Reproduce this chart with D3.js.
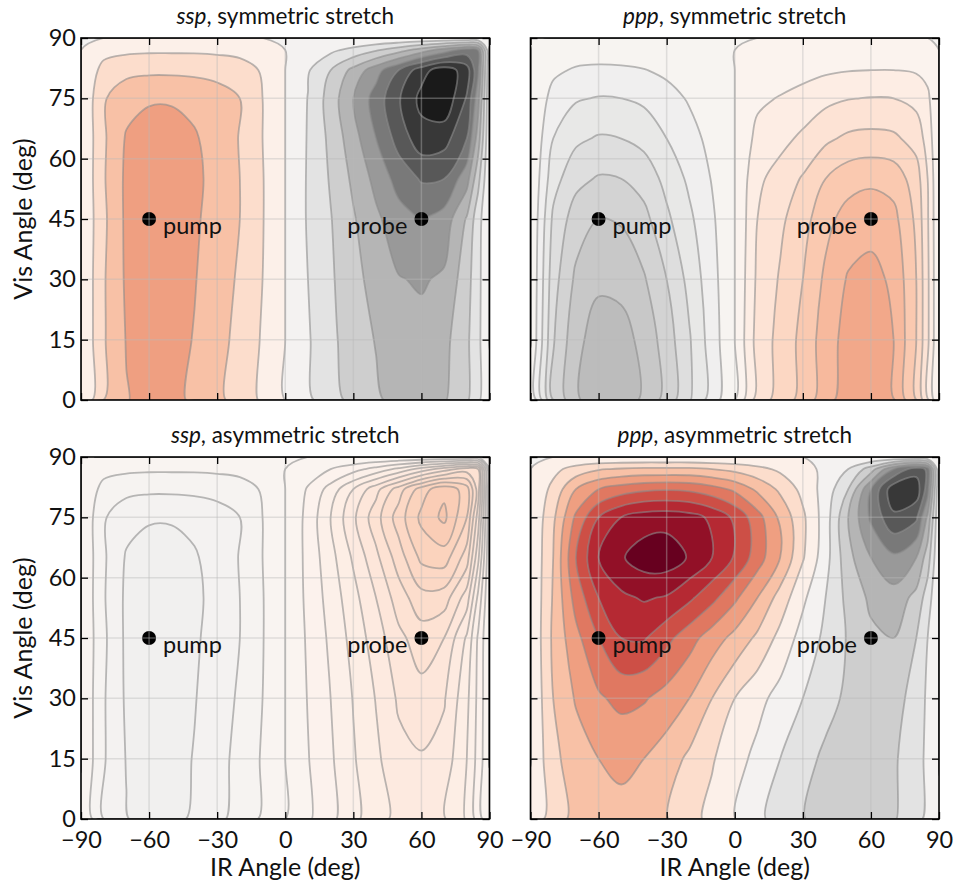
<!DOCTYPE html>
<html>
<head>
<meta charset="utf-8">
<script src="https://cdn.jsdelivr.net/npm/d3@7"></script>
<style>
  body { margin: 0; background: #fff; }
  text { font-family: Lato, "Open Sans", sans-serif; fill: #111; }
</style>
</head>
<body>
<div id="container"></div>
<script>
// grid axes (deg)
const irAngles = [-90, -80, -70, -60, -50, -40, -30, -20, -10, 0, 10, 20, 30, 40, 50, 60, 70, 80, 85, 90];
const visAngles = [0, 15, 30, 45, 55, 65, 75, 82, 87, 90];

// field values, one row per vis angle (bottom to top)
const sspSym = [
  [0, -.2, -.295, -.335, -.325, -.285, -.225, -.16, -.085, 0, .08, .16, .23, .285, .33, .35, .31, .215, .12, 0],
  [0, -.19, -.305, -.34, -.335, -.295, -.235, -.17, -.09, 0, .09, .175, .255, .305, .35, .37, .33, .22, .125, 0],
  [0, -.19, -.315, -.35, -.345, -.305, -.25, -.185, -.1, 0, .1, .185, .27, .335, .395, .41, .385, .24, .13, 0],
  [0, -.18, -.32, -.355, -.355, -.315, -.26, -.2, -.105, 0, .11, .195, .29, .38, .46, .505, .46, .29, .14, 0],
  [0, -.19, -.32, -.355, -.355, -.32, -.27, -.2, -.105, 0, .11, .21, .32, .43, .54, .61, .6, .44, .23, 0],
  [0, -.185, -.31, -.34, -.34, -.31, -.26, -.195, -.1, 0, .107, .225, .36, .5, .64, .76, .74, .6, .35, 0],
  [0, -.19, -.265, -.29, -.29, -.275, -.245, -.2, -.1, 0, .103, .245, .4, .545, .69, .83, .88, .69, .44, 0],
  [0, -.135, -.17, -.18, -.18, -.175, -.165, -.145, -.09, 0, .09, .2, .33, .46, .6, .76, .86, .75, .52, 0],
  [0, -.065, -.08, -.085, -.085, -.085, -.08, -.07, -.045, 0, .04, .08, .13, .19, .26, .35, .45, .55, .5, 0],
  [0, 0, 0, 0, 0, 0, 0, 0, 0, 0, 0, 0, 0, 0, 0, 0, 0, 0, 0, 0]
];
const pppSym = [
  [0, .2, .29, .335, .33, .29, .23, .155, .075, 0, -.125, -.17, -.22, -.28, -.33, -.345, -.305, -.2, -.11, 0],
  [0, .195, .285, .325, .32, .285, .225, .155, .075, 0, -.12, -.165, -.215, -.275, -.32, -.335, -.3, -.2, -.11, 0],
  [0, .18, .26, .29, .285, .255, .2, .135, .068, 0, -.11, -.155, -.2, -.26, -.305, -.317, -.29, -.2, -.11, 0],
  [0, .16, .225, .25, .245, .215, .16, .11, .058, 0, -.1, -.14, -.18, -.235, -.27, -.28, -.265, -.19, -.105, 0],
  [0, .13, .185, .205, .2, .18, .135, .09, .047, 0, -.09, -.12, -.155, -.2, -.23, -.24, -.23, -.175, -.1, 0],
  [0, .1, .14, .155, .15, .135, .1, .068, .035, 0, -.065, -.085, -.11, -.14, -.16, -.165, -.16, -.13, -.08, 0],
  [0, .068, .095, .103, .1, .09, .068, .045, .023, 0, -.04, -.053, -.068, -.087, -.098, -.102, -.1, -.085, -.06, 0],
  [0, .04, .056, .06, .058, .052, .04, .027, .013, 0, -.02, -.026, -.033, -.042, -.048, -.05, -.05, -.045, -.035, 0],
  [0, .017, .023, .025, .024, .022, .017, .011, .006, 0, -.007, -.01, -.013, -.016, -.019, -.02, -.02, -.018, -.014, 0],
  [0, 0, 0, 0, 0, 0, 0, 0, 0, 0, 0, 0, 0, 0, 0, 0, 0, 0, 0, 0]
];
const sspAsym = [
  [0, .04, .059, .067, .065, .057, .045, .032, .017, 0, -.017, -.035, -.055, -.072, -.086, -.092, -.082, -.058, -.032, 0],
  [0, .038, .061, .068, .067, .059, .047, .034, .018, 0, -.019, -.037, -.058, -.076, -.094, -.098, -.092, -.06, -.033, 0],
  [0, .038, .063, .07, .069, .061, .05, .037, .02, 0, -.021, -.04, -.061, -.081, -.103, -.113, -.102, -.065, -.035, 0],
  [0, .036, .064, .071, .071, .063, .052, .04, .021, 0, -.023, -.044, -.067, -.09, -.115, -.13, -.12, -.077, -.037, 0],
  [0, .038, .064, .071, .071, .064, .054, .04, .021, 0, -.025, -.048, -.073, -.1, -.13, -.153, -.15, -.11, -.055, 0],
  [0, .037, .062, .068, .068, .062, .052, .039, .02, 0, -.026, -.053, -.083, -.115, -.15, -.185, -.19, -.15, -.085, 0],
  [0, .038, .053, .058, .058, .055, .049, .04, .02, 0, -.026, -.06, -.096, -.132, -.17, -.205, -.225, -.18, -.11, 0],
  [0, .027, .034, .036, .036, .035, .033, .029, .018, 0, -.022, -.048, -.08, -.113, -.15, -.19, -.215, -.19, -.13, 0],
  [0, .013, .016, .017, .017, .017, .016, .014, .009, 0, -.01, -.02, -.032, -.047, -.065, -.088, -.11, -.13, -.12, 0],
  [0, 0, 0, 0, 0, 0, 0, 0, 0, 0, 0, 0, 0, 0, 0, 0, 0, 0, 0, 0]
];
const pppAsym = [
  [0, -.17, -.22, -.265, -.28, -.265, -.205, -.14, -.07, -.003, .073, .145, .195, .235, .26, .255, .21, .13, .075, 0],
  [0, -.175, -.25, -.3, -.315, -.3, -.25, -.18, -.11, -.035, .025, .1, .165, .22, .255, .26, .215, .135, .08, 0],
  [0, -.2, -.31, -.385, -.43, -.41, -.36, -.3, -.2, -.1, -.03, .035, .1, .165, .22, .26, .25, .15, .085, 0],
  [0, -.22, -.37, -.5, -.6, -.61, -.53, -.44, -.35, -.27, -.18, -.07, .04, .12, .21, .28, .3, .2, .1, 0],
  [0, -.21, -.44, -.6, -.68, -.71, -.69, -.62, -.53, -.42, -.3, -.16, -.02, .1, .23, .32, .36, .27, .15, 0],
  [0, -.2, -.5, -.7, -.79, -.85, -.86, -.79, -.7, -.59, -.45, -.3, -.11, .06, .27, .4, .48, .4, .25, 0],
  [0, -.18, -.42, -.6, -.7, -.75, -.76, -.74, -.68, -.58, -.44, -.28, -.12, .05, .3, .52, .68, .62, .38, 0],
  [0, -.13, -.3, -.4, -.45, -.48, -.49, -.48, -.44, -.38, -.28, -.18, -.07, .04, .2, .5, .77, .76, .55, 0],
  [0, -.07, -.14, -.19, -.21, -.22, -.22, -.22, -.2, -.17, -.13, -.08, -.03, .02, .1, .25, .5, .66, .58, 0],
  [0, 0, 0, 0, 0, 0, 0, 0, 0, 0, 0, 0, 0, 0, 0, 0, 0, 0, 0, 0]
];

const levelSteps = [0.1, 0.05, 0.02, 0.1];
const colorLimit = 0.85;
const panelTitles = [["ssp", ", symmetric stretch"], ["ppp", ", symmetric stretch"],
                     ["ssp", ", asymmetric stretch"], ["ppp", ", asymmetric stretch"]];
const xTicks = [-90, -60, -30, 0, 30, 60, 90];
const yTicks = [0, 15, 30, 45, 60, 75, 90];
const markerAngles = [[-60, 45], [60, 45]];
const markerLabels = ["pump", "probe"];

const W = 955, H = 893;
const panelX = [81, 530.5], panelY = [38, 457];
const pw = 408.5, ph = 362;
const nx = irAngles.length, ny = visAngles.length;

const svg = d3.select("#container").append("svg")
  .attr("width", W)
  .attr("height", H);

const panels = [
  {grid: sspSym, col: 0, row: 0},
  {grid: pppSym, col: 1, row: 0},
  {grid: sspAsym, col: 0, row: 1},
  {grid: pppAsym, col: 1, row: 1}
];

// contour index coords -> angle (samples sit at index + 0.5)
function toAngle(c, axis) {
  let s = Math.max(0, Math.min(axis.length - 1, c - 0.5));
  let i = Math.min(Math.floor(s), axis.length - 2);
  return axis[i] + (s - i) * (axis[i + 1] - axis[i]);
}

const fmt = d => d < 0 ? "\u2212" + Math.abs(d) : String(d);
const smoothLine = d3.line().curve(d3.curveCatmullRomClosed.alpha(0.5));

panels.forEach((p, i) => {
  const step = levelSteps[i];
  const x = d3.scaleLinear().domain([-90, 90]).range([0, pw]);
  const y = d3.scaleLinear().domain([0, 90]).range([ph, 0]);
  const g = svg.append("g").attr("transform", `translate(${panelX[p.col]},${panelY[p.row]})`);

  g.append("clipPath").attr("id", "clip" + i)
    .append("rect").attr("width", pw).attr("height", ph);

  const values = p.grid.flat();
  const kMin = Math.floor(d3.min(values) / step + 1e-9);
  const kMax = Math.ceil(d3.max(values) / step - 1e-9);
  const thresholds = d3.range(kMin, kMax).map(k => k * step);
  const bands = d3.contours().size([nx, ny]).thresholds(thresholds)(values);

  function ringPath(ring) {
    const pts = [];
    ring.forEach(pt => {
      const px = x(toAngle(pt[0], irAngles)), py = y(toAngle(pt[1], visAngles));
      const last = pts[pts.length - 1];
      if (!last || Math.abs(last[0] - px) > 0.05 || Math.abs(last[1] - py) > 0.05) pts.push([px, py]);
    });
    const f = pts[0], l = pts[pts.length - 1];
    if (pts.length > 1 && Math.abs(f[0] - l[0]) < 0.05 && Math.abs(f[1] - l[1]) < 0.05) pts.pop();
    return pts.length > 2 ? smoothLine(pts) : "";
  }
  const geomPath = c => c.coordinates.map(poly => poly.map(ringPath).join("")).join("");

  const plot = g.append("g").attr("clip-path", `url(#clip${i})`);
  plot.selectAll(".band").data(bands).enter()
    .append("path")
    .attr("class", "band")
    .attr("d", geomPath)
    .attr("fill-rule", "evenodd")
    .attr("fill", d => d3.interpolateRdGy(Math.max(0, Math.min(1, 0.5 + (d.value + step / 2) / (2 * colorLimit)))));

  plot.selectAll(".iso").data(bands.slice(1)).enter()
    .append("path")
    .attr("class", "iso")
    .attr("d", geomPath)
    .attr("fill", "none")
    .attr("stroke", "rgb(140,140,140)")
    .attr("stroke-opacity", 0.6)
    .attr("stroke-width", 1.8);

  // markers
  plot.selectAll(".dot").data(markerAngles).enter()
    .append("circle")
    .attr("cx", d => x(d[0]))
    .attr("cy", d => y(d[1]))
    .attr("r", 7)
    .attr("fill", "#000");

  // grid on top
  plot.selectAll(".gx").data(xTicks.slice(1, -1)).enter()
    .append("line")
    .attr("x1", d => x(d)).attr("x2", d => x(d))
    .attr("y1", 0).attr("y2", ph)
    .attr("stroke", "rgb(186,186,186)").attr("stroke-opacity", 0.4).attr("stroke-width", 1.5);
  plot.selectAll(".gy").data(yTicks.slice(1, -1)).enter()
    .append("line")
    .attr("y1", d => y(d)).attr("y2", d => y(d))
    .attr("x1", 0).attr("x2", pw)
    .attr("stroke", "rgb(186,186,186)").attr("stroke-opacity", 0.4).attr("stroke-width", 1.5);

  g.selectAll(".lab").data(markerAngles).enter()
    .append("text")
    .attr("x", (d, j) => x(d[0]) + (j === 0 ? 14 : -14))
    .attr("y", d => y(d[1]) + 14.5)
    .attr("text-anchor", (d, j) => j === 0 ? "start" : "end")
    .style("font-size", "23.5px")
    .text((d, j) => markerLabels[j]);

  // axes with inward ticks on all sides
  const bottom = d3.axisBottom(x).tickValues(xTicks).tickSizeInner(-7).tickSizeOuter(0).tickPadding(12)
    .tickFormat(p.row === 1 ? fmt : "");
  const top = d3.axisTop(x).tickValues(xTicks).tickSizeInner(-7).tickSizeOuter(0).tickFormat("");
  const left = d3.axisLeft(y).tickValues(yTicks).tickSizeInner(-7).tickSizeOuter(0).tickPadding(5)
    .tickFormat(p.col === 0 ? fmt : "");
  const right = d3.axisRight(y).tickValues(yTicks).tickSizeInner(-7).tickSizeOuter(0).tickFormat("");

  [g.append("g").attr("transform", `translate(0,${ph})`).call(bottom),
   g.append("g").call(top),
   g.append("g").call(left),
   g.append("g").attr("transform", `translate(${pw},0)`).call(right)
  ].forEach(a => {
    a.select(".domain").remove();
    a.selectAll("line").attr("stroke", "#000").attr("stroke-width", 1.3);
    a.selectAll("text").style("font-size", "23.5px").style("font-family", "Lato, 'Open Sans', sans-serif").attr("fill", "#111");
  });

  g.append("rect")
    .attr("width", pw).attr("height", ph)
    .attr("fill", "none").attr("stroke", "#000").attr("stroke-width", 1.6);

  const title = g.append("text")
    .attr("x", pw / 2).attr("y", -14)
    .attr("text-anchor", "middle")
    .style("font-size", "22.5px");
  title.append("tspan").style("font-style", "italic").text(panelTitles[i][0]);
  title.append("tspan").text(panelTitles[i][1]);

  if (p.row === 1) {
    g.append("text")
      .attr("x", pw / 2).attr("y", ph + 57)
      .attr("text-anchor", "middle")
      .style("font-size", "25px")
      .text("IR Angle (deg)");
  }
  if (p.col === 0) {
    g.append("text")
      .attr("transform", `translate(${32 - panelX[0]},${ph / 2}) rotate(-90)`)
      .attr("text-anchor", "middle")
      .style("font-size", "25px")
      .text("Vis Angle (deg)");
  }
});
</script>
</body>
</html>
